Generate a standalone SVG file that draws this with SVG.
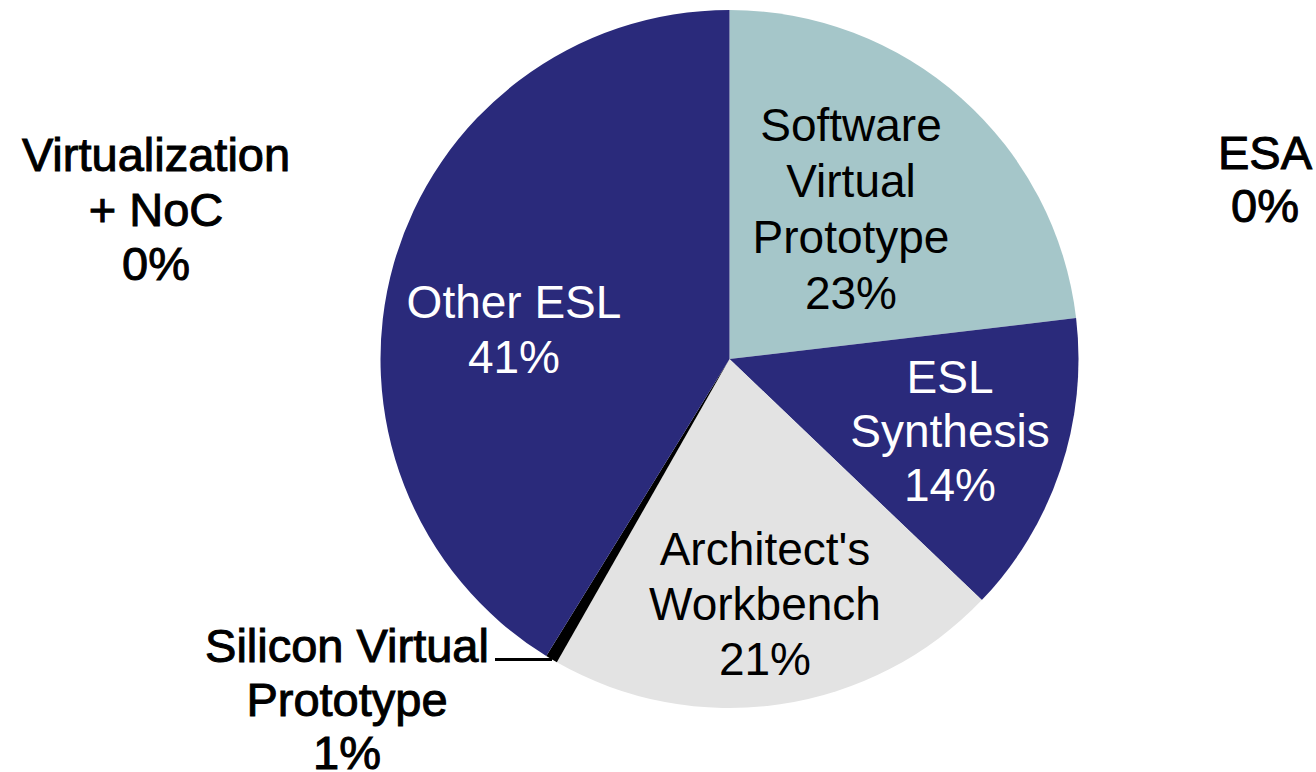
<svg xmlns="http://www.w3.org/2000/svg" width="1316" height="772" viewBox="0 0 1316 772">
<style>
.in{font-family:"Liberation Sans",Arial,sans-serif;font-size:46px;text-anchor:middle}
.out{font-family:"Liberation Sans",Arial,sans-serif;font-size:47px;text-anchor:middle;fill:#000;stroke:#000;stroke-width:1}
.w{fill:#fff}
.b{fill:#000}
</style>
<rect width="1316" height="772" fill="#fff"/>
<g id="pie">
<path id="slice-software" d="M729.5,359 L729.5,10 A349,349 0 0 1 1076.09,318.04 Z" fill="#A5C6C9"/>
<path id="slice-synthesis" d="M729.5,359 L1076.09,318.04 A349,349 0 0 1 981.82,600.12 Z" fill="#2A2A7B"/>
<path id="slice-architect" d="M729.5,359 L981.82,600.12 A349,349 0 0 1 556.85,662.31 Z" fill="#E3E3E3"/>
<path id="slice-silicon" d="M729.5,359 L556.85,662.31 A349,349 0 0 1 546.28,656.04 Z" fill="#000"/>
<path id="slice-other" d="M729.5,359 L546.28,656.04 A349,349 0 0 1 729.5,10 Z" fill="#2A2A7B"/>
</g>
<g id="connectors">
<polyline points="495,659.5 552,659.5" fill="none" stroke="#000" stroke-width="3"/>
</g>
<g id="label-software">
<text class="in b" x="851" y="141">Software</text>
<text class="in b" x="851" y="197">Virtual</text>
<text class="in b" x="851" y="253">Prototype</text>
<text class="in b" x="851" y="309">23%</text>
</g>
<g id="label-other">
<text class="in w" x="514" y="318">Other ESL</text>
<text class="in w" x="514" y="373">41%</text>
</g>
<g id="label-synthesis">
<text class="in w" x="950" y="393">ESL</text>
<text class="in w" x="950" y="447">Synthesis</text>
<text class="in w" x="950" y="501">14%</text>
</g>
<g id="label-architect">
<text class="in b" x="765" y="565">Architect's</text>
<text class="in b" x="765" y="620">Workbench</text>
<text class="in b" x="765" y="675">21%</text>
</g>
<g id="label-virtualization">
<text class="out" x="156" y="171">Virtualization</text>
<text class="out" x="156" y="226">+ NoC</text>
<text class="out" x="156" y="280">0%</text>
</g>
<g id="label-esa">
<text class="out" x="1265" y="169">ESA</text>
<text class="out" x="1265" y="222">0%</text>
</g>
<g id="label-silicon">
<text class="out" x="347" y="662">Silicon Virtual</text>
<text class="out" x="347" y="716">Prototype</text>
<text class="out" x="347" y="769">1%</text>
</g>
</svg>
